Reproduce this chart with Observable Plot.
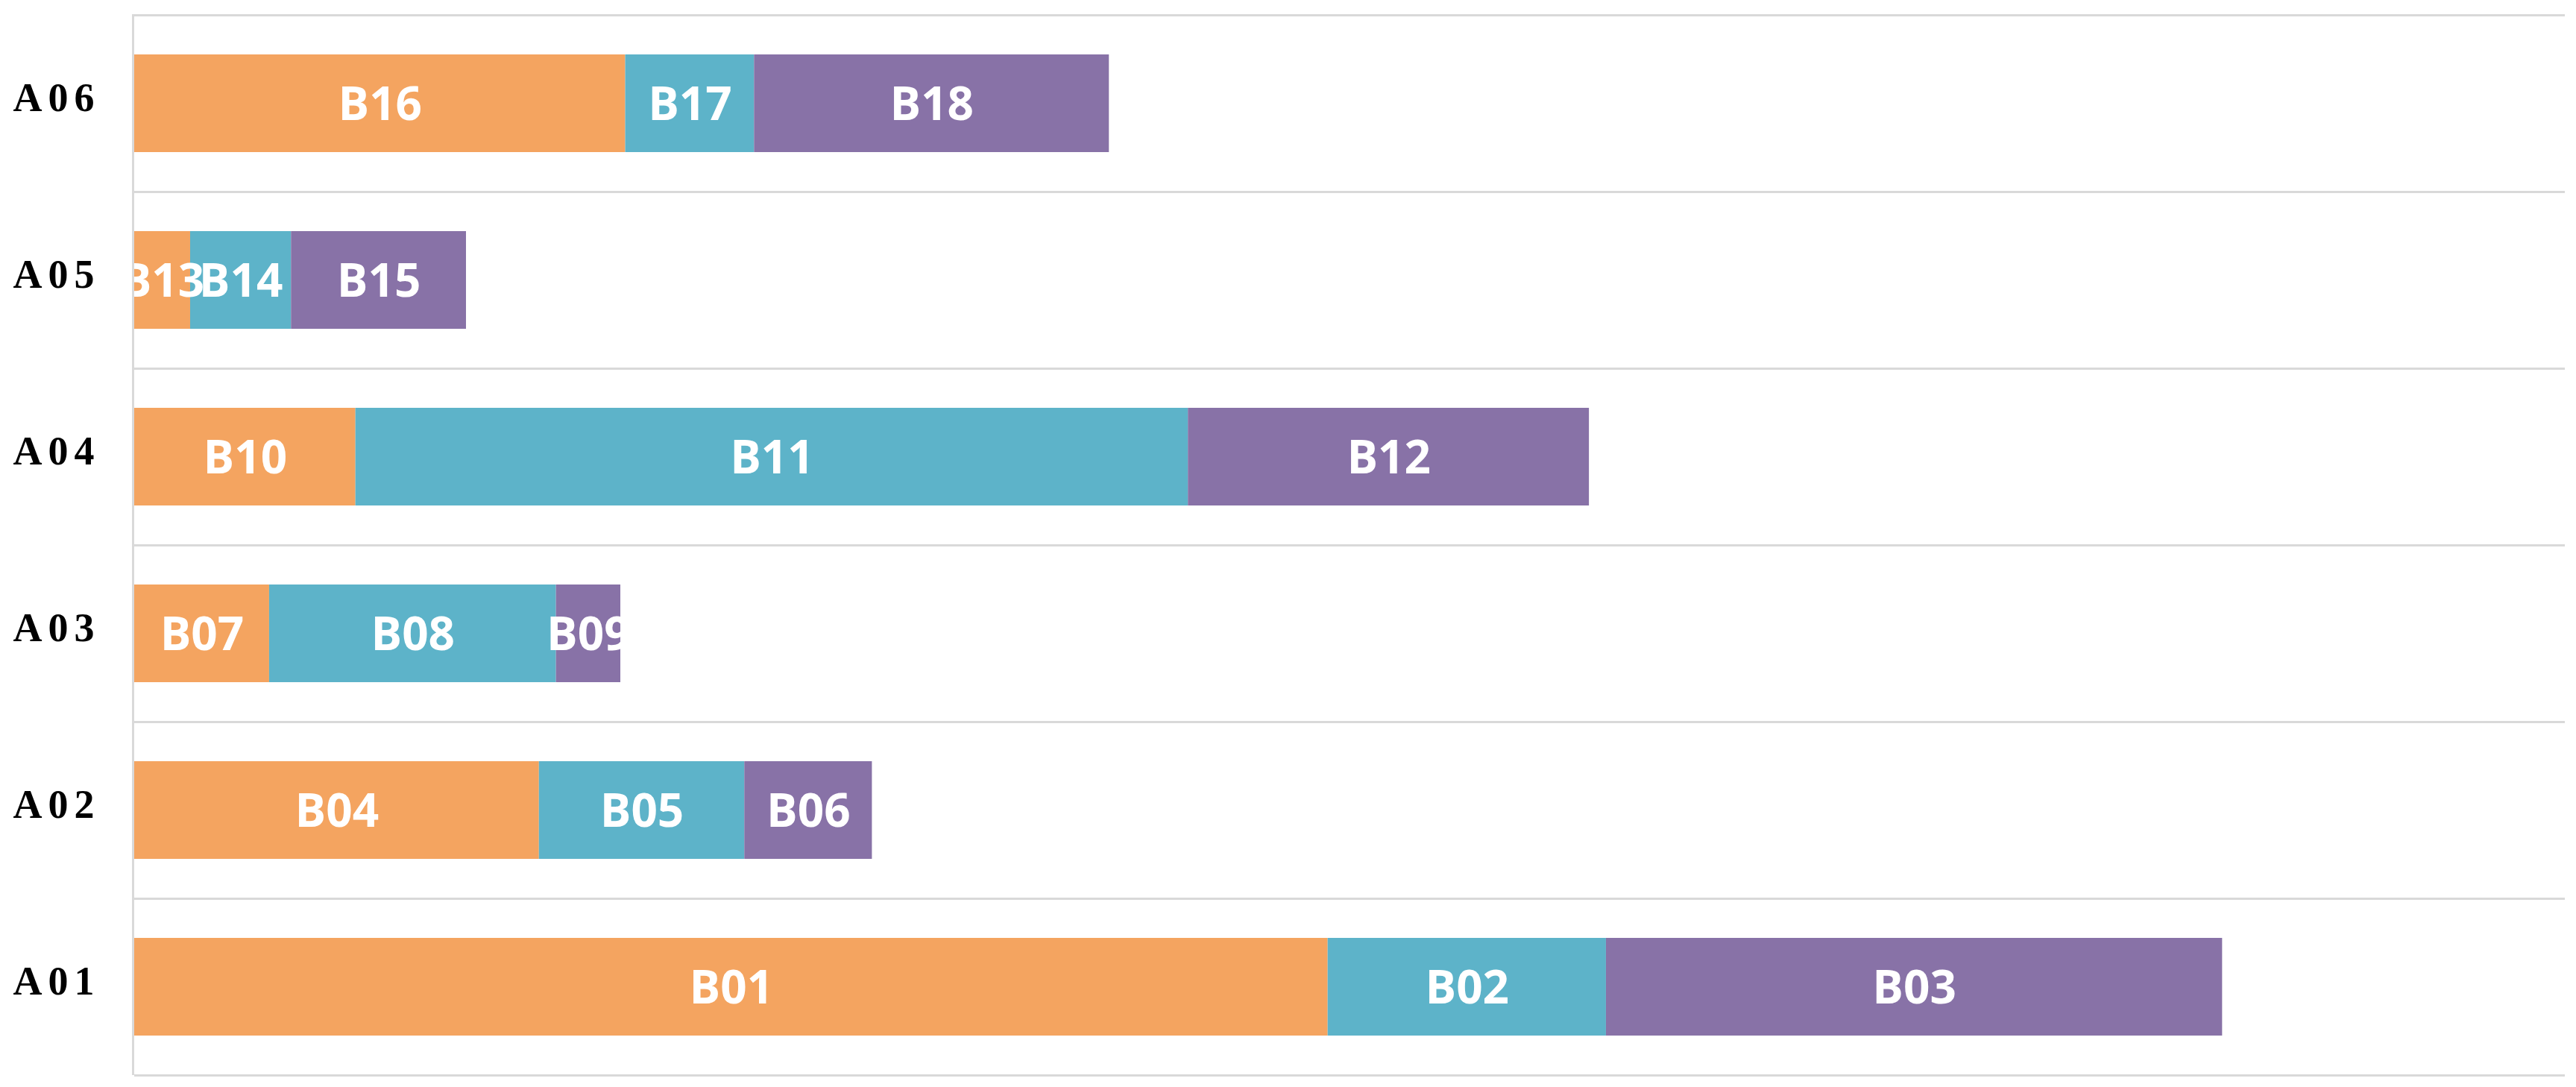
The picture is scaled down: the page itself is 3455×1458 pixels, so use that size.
<!DOCTYPE html>
<html>
<head>
<meta charset="utf-8">
<script src="https://cdn.jsdelivr.net/npm/d3@7"></script>
<script src="https://cdn.jsdelivr.net/npm/@observablehq/plot@0.6"></script>
<style>
  html, body { margin: 0; padding: 0; background: #ffffff; }
  #chart svg { display: block; }
</style>
</head>
<body>
<div id="chart"></div>
<script>
// Row categories (bottom to top)
const groups = ["A01", "A02", "A03", "A04", "A05", "A06"];
// Segment labels per row (first, second, third segment)
const labels1 = ["B01", "B04", "B07", "B10", "B13", "B16"];
const labels2 = ["B02", "B05", "B08", "B11", "B14", "B17"];
const labels3 = ["B03", "B06", "B09", "B12", "B15", "B18"];
// Segment values per row
const values1 = [98.2, 33.3, 11.1, 18.2, 4.6, 40.4];
const values2 = [22.9, 16.9, 23.6, 68.5, 8.3, 10.6];
const values3 = [50.7, 10.5, 5.3, 33.0, 14.4, 29.2];
const seriesNames = ["first", "second", "third"];
const seriesColors = ["#F4A460", "#5DB3C9", "#8872A7"];
const xMax = 200;

const data = [];
groups.forEach((g, i) => {
  data.push({group: g, series: "first", value: values1[i], label: labels1[i]});
  data.push({group: g, series: "second", value: values2[i], label: labels2[i]});
  data.push({group: g, series: "third", value: values3[i], label: labels3[i]});
});

const W = 3455, H = 1458;
const marginTop = 19, marginBottom = 16, marginLeft = 180, marginRight = 15;
const bandH = (H - marginTop - marginBottom) / groups.length;
const gridColor = "#d9d9d9";

const chart = Plot.plot({
  width: W,
  height: H,
  marginTop, marginBottom, marginLeft, marginRight,
  style: {background: "#ffffff", fontFamily: "'Liberation Serif', 'Times New Roman', serif", fontSize: "54px", fontWeight: "bold", color: "#000"},
  x: {domain: [0, xMax], axis: null},
  y: {domain: groups.slice().reverse(), padding: 0, axis: null, label: null},
  color: {domain: seriesNames, range: seriesColors},
  marks: [
    Plot.ruleY(groups, {y: d => d, dy: -bandH / 2, stroke: gridColor, strokeWidth: 3}),
    Plot.ruleY([groups[0]], {y: d => d, dy: bandH / 2, stroke: gridColor, strokeWidth: 3}),
    Plot.barX(data, Plot.stackX({x: "value", y: "group", fill: "series", insetTop: 53, insetBottom: 53})),
    Plot.textX(data, Plot.stackX({x: "value", y: "group", text: "label", fill: "white", fontFamily: "'Open Sans', sans-serif", fontSize: 62, fontWeight: 700, dy: 2})),
    Plot.ruleX([0], {stroke: gridColor, strokeWidth: 3, dx: -2}),
    Plot.axisY({label: null, tickSize: 0, tickPadding: 46, dy: -7, fontSize: 54, fontWeight: "bold", fontFamily: "'Liberation Serif', serif", fill: "#000"})
  ]
});
// spaced-out row labels, as in the reference
d3.select(chart).selectAll("text")
  .filter(function() { return groups.includes(this.textContent); })
  .style("letter-spacing", "8px");
document.getElementById("chart").appendChild(chart);
</script>
</body>
</html>
